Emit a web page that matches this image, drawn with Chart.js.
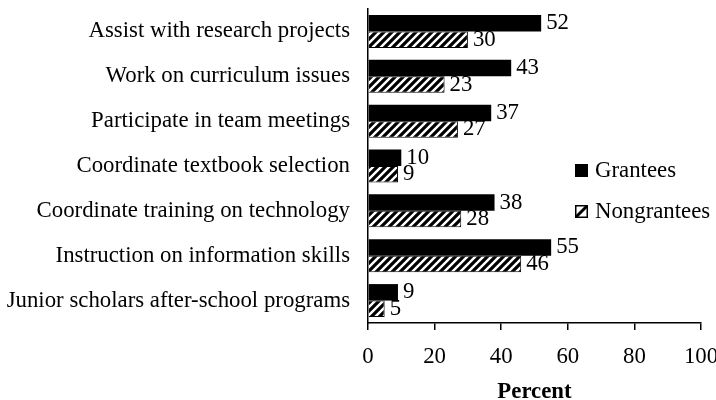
<!DOCTYPE html>
<html>
<head>
<meta charset="utf-8">
<script src="https://cdn.jsdelivr.net/npm/chart.js@4"></script>
<style>
  html, body { margin: 0; padding: 0; background: #fff; }
  #wrap { width: 716px; height: 400px; }
</style>
</head>
<body>
<div id="wrap"><canvas id="barChart" width="716" height="400"></canvas></div>
<script>
const categories = [
  "Assist with research projects",
  "Work on curriculum issues",
  "Participate in team meetings",
  "Coordinate textbook selection",
  "Coordinate training on technology",
  "Instruction on information skills",
  "Junior scholars after-school programs",
];
const grantees = [52, 43, 37, 10, 38, 55, 9];
const nongrantees = [30, 23, 27, 9, 28, 46, 5];
const seriesNames = ["Grantees", "Nongrantees"];

const FONT = "'Liberation Serif', 'Times New Roman', serif";
const SIZE = 22.8;

// diagonal "/" stripes for the second series
function makeHatch(ctx) {
  const c = document.createElement("canvas");
  c.width = 8;
  c.height = 8;
  const g = c.getContext("2d");
  g.fillStyle = "#fff";
  g.fillRect(0, 0, 8, 8);
  g.strokeStyle = "#000";
  g.lineWidth = 3.2;
  g.beginPath();
  g.moveTo(-2, 10); g.lineTo(10, -2);
  g.moveTo(-6, 6); g.lineTo(6, -6);
  g.moveTo(2, 14); g.lineTo(14, 2);
  g.stroke();
  return ctx.createPattern(c, "repeat");
}

// value printed just past the end of each bar
const valueLabels = {
  id: "valueLabels",
  afterDatasetsDraw(chart) {
    const ctx = chart.ctx;
    ctx.save();
    ctx.font = SIZE + "px " + FONT;
    ctx.fillStyle = "#000";
    ctx.textAlign = "left";
    ctx.textBaseline = "middle";
    chart.data.datasets.forEach((ds, i) => {
      chart.getDatasetMeta(i).data.forEach((bar, j) => {
        ctx.fillText(ds.data[j], bar.x + 5, bar.y);
      });
    });
    ctx.restore();
  },
};

// legend sitting inside the plot, right side
const innerLegend = {
  id: "innerLegend",
  afterDraw(chart) {
    const ctx = chart.ctx;
    const x = 575;
    const rows = [171, 212];
    ctx.save();
    ctx.font = SIZE + "px " + FONT;
    ctx.textBaseline = "middle";
    chart.data.datasets.forEach((ds, i) => {
      const y = rows[i];
      if (i === 0) {
        ctx.fillStyle = "#000";
        ctx.fillRect(x, y - 7, 13, 13);
      } else {
        ctx.fillStyle = "#fff";
        ctx.fillRect(x, y - 7, 13, 13);
        ctx.strokeStyle = "#000";
        ctx.lineWidth = 1.5;
        ctx.strokeRect(x + 0.75, y - 6.25, 11.5, 11.5);
        ctx.lineWidth = 3;
        ctx.beginPath();
        ctx.moveTo(x + 1, y + 5);
        ctx.lineTo(x + 12, y - 6);
        ctx.stroke();
      }
      ctx.fillStyle = "#000";
      ctx.fillText(ds.label, x + 20, y);
    });
    ctx.restore();
  },
};

const ctx = document.getElementById("barChart").getContext("2d");
new Chart(ctx, {
  type: "bar",
  data: {
    labels: categories,
    datasets: [
      {
        label: seriesNames[0],
        data: grantees,
        backgroundColor: "#000",
        borderWidth: 0,
      },
      {
        label: seriesNames[1],
        data: nongrantees,
        backgroundColor: makeHatch(ctx),
        borderColor: "#000",
        borderWidth: 1,
      },
    ],
  },
  options: {
    indexAxis: "y",
    responsive: false,
    animation: false,
    layout: { padding: 0 },
    datasets: {
      bar: { categoryPercentage: 0.735, barPercentage: 1 },
    },
    plugins: {
      legend: { display: false },
      tooltip: { enabled: false },
    },
    scales: {
      x: {
        min: 0,
        max: 100,
        afterFit(scale) {
          scale.height = 77;
          scale.paddingLeft = 0;
          scale.paddingRight = 15;
        },
        ticks: {
          stepSize: 20,
          color: "#000",
          font: { family: FONT, size: SIZE },
          padding: 13,
          maxRotation: 0,
        },
        grid: {
          drawOnChartArea: false,
          drawTicks: true,
          tickLength: 7,
          color: "#000",
          lineWidth: 1.5,
        },
        border: { display: true, color: "#000", width: 1.5 },
        title: {
          display: true,
          text: "Percent",
          color: "#000",
          font: { family: FONT, size: SIZE, weight: "bold" },
          padding: { top: 0, bottom: -6 },
        },
      },
      y: {
        afterFit(scale) {
          scale.width = 368;
          scale.paddingTop = 9;
          scale.paddingBottom = 0;
        },
        ticks: {
          color: "#000",
          font: { family: FONT, size: SIZE },
          padding: 18,
        },
        grid: { display: false, drawTicks: false },
        border: { display: true, color: "#000", width: 1.5 },
      },
    },
  },
  plugins: [valueLabels, innerLegend],
});
</script>
</body>
</html>
